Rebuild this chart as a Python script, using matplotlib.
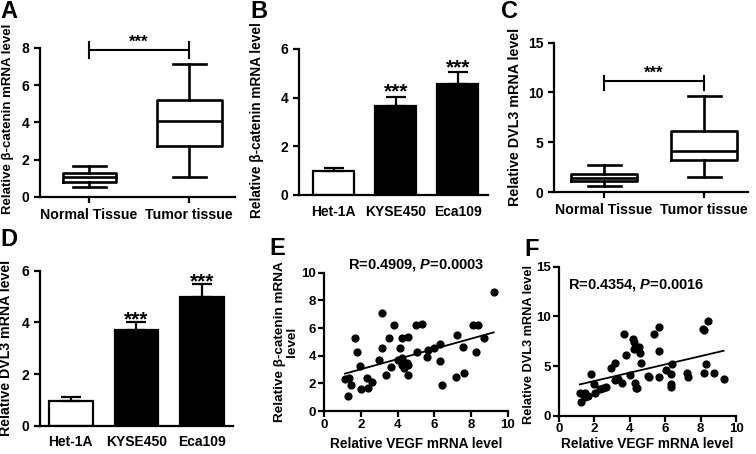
import numpy as np
import matplotlib
matplotlib.use("Agg")
import matplotlib.pyplot as plt

plt.rcParams['font.family'] = ['Liberation Sans', 'DejaVu Sans']
plt.rcParams['font.weight'] = 'bold'
plt.rcParams['axes.labelweight'] = 'bold'
plt.rcParams['mathtext.fontset'] = 'custom'
plt.rcParams['mathtext.it'] = 'Liberation Sans:bold:italic'
plt.rcParams['mathtext.rm'] = 'Liberation Sans:bold'

# ---- data ----
tissue_labels = ['Normal Tissue', 'Tumor tissue']
# box stats: whisker low, q1, median, q3, whisker high
ctnnb_box = [[0.55, 0.82, 1.07, 1.30, 1.68],
             [1.05, 2.72, 4.05, 5.20, 7.12]]
dvl3_box = [[0.57, 1.07, 1.38, 1.84, 2.67],
            [1.47, 3.17, 4.14, 6.08, 9.65]]

cell_lines = ['Het-1A', 'KYSE450', 'Eca109']
ctnnb_mean = [0.98, 3.67, 4.55]
ctnnb_sd = [0.14, 0.36, 0.49]
dvl3_mean = [0.97, 3.70, 4.99]
dvl3_sd = [0.15, 0.30, 0.49]

vegf_e = [1.14, 1.38, 1.45, 1.29, 1.70, 1.79, 1.97, 2.03, 2.36, 2.39, 2.61, 2.99,
          3.17, 3.15, 3.37, 3.55, 3.66, 3.79, 4.04, 4.15, 4.24, 4.22, 4.26, 4.37,
          4.49, 4.57, 4.57, 4.58, 5.02, 5.04, 5.34, 5.60, 5.63, 6.00, 6.30, 6.32,
          6.39, 7.19, 7.25, 7.63, 7.57, 8.12, 8.35, 8.24, 8.68, 9.22]
ctnnb_e = [2.29, 2.41, 1.88, 1.11, 5.25, 4.24, 3.25, 1.57, 2.41, 1.69, 2.07, 3.69,
           7.11, 4.58, 2.60, 5.25, 3.16, 6.24, 3.69, 4.58, 5.25, 3.83, 3.33, 3.13,
           3.49, 5.33, 2.60, 3.33, 6.24, 4.24, 6.31, 3.88, 4.41, 4.58, 4.84, 3.61,
           1.88, 2.48, 5.49, 2.72, 4.65, 6.19, 6.22, 4.24, 5.30, 8.60]
fit_e = (0.369, 2.28)   # slope, intercept of the drawn fit line

vegf_f = [1.17, 1.27, 1.36, 1.47, 1.49, 1.64, 1.78, 1.98, 2.02, 2.34, 2.50, 2.63,
          2.93, 3.16, 3.18, 3.36, 3.55, 3.65, 3.78, 4.03, 4.18, 4.22, 4.23, 4.27,
          4.35, 4.39, 4.54, 4.57, 4.61, 5.05, 5.07, 5.37, 5.65, 5.67, 5.67, 6.03,
          6.35, 6.41, 6.33, 6.35, 7.24, 7.26, 8.11, 8.19, 8.17, 8.30, 8.39, 8.77, 9.30]
dvl3_f = [2.25, 1.41, 2.18, 2.32, 1.91, 2.01, 4.19, 3.19, 2.25, 2.68, 2.82, 2.92,
          4.77, 5.34, 3.59, 3.72, 3.26, 8.19, 6.14, 4.09, 7.72, 7.45, 6.71, 3.26,
          2.75, 2.82, 6.95, 6.34, 5.27, 4.03, 3.86, 8.22, 8.89, 6.51, 3.86, 4.60,
          4.19, 5.20, 3.19, 2.85, 4.26, 3.86, 8.69, 8.62, 4.26, 5.17, 9.56, 4.26, 3.69]
fit_f = (0.417, 2.66)

W, H = 756, 454
fig = plt.figure(figsize=(W / 100, H / 100), dpi=100)


def px_axes(l, r, t, b):
    return fig.add_axes([l / W, 1 - b / H, (r - l) / W, (b - t) / H])


def style(ax, size=10):
    for s in ['top', 'right']:
        ax.spines[s].set_visible(False)
    for s in ['left', 'bottom']:
        ax.spines[s].set_linewidth(1.6)
    ax.tick_params(width=1.6, length=4, labelsize=size, direction='out')
    for lab in ax.get_xticklabels() + ax.get_yticklabels():
        lab.set_fontweight('bold')


def ylabel_at(text, xpx, ypx, size):
    fig.text(xpx / W, 1 - ypx / H, text, rotation=90, ha='center', va='center',
             fontsize=size, fontweight='bold', linespacing=1.1)


def letter(ch, xpx, ypx):
    fig.text(xpx / W, 1 - ypx / H, ch, ha='left', va='top', fontsize=17, fontweight='bold')


def boxpanel(ax, box, widths, ymax, yticks, bracket_y, tick_lo, tick_hi, xlim):
    stats = [dict(whislo=b[0], q1=b[1], med=b[2], q3=b[3], whishi=b[4], fliers=[])
             for b in box]
    lp = dict(color='black', linewidth=1.9)
    ax.bxp(stats, positions=[1, 2], widths=widths, capwidths=[0.33, 0.33],
           showfliers=False, boxprops=lp, whiskerprops=lp, capprops=lp, medianprops=lp)
    ax.set_xlim(*xlim)
    ax.set_ylim(0, ymax)
    ax.set_yticks(yticks)
    ax.set_xticks([1, 2])
    ax.set_xticklabels(tissue_labels)
    ax.plot([1, 2], [bracket_y, bracket_y], color='black', lw=1.5, clip_on=False)
    for xx in [1, 2]:
        ax.plot([xx, xx], [tick_lo, tick_hi], color='black', lw=1.5, clip_on=False)
    ax.text(1.5, bracket_y, '***', ha='center', va='bottom', fontsize=12, fontweight='bold')
    style(ax)
    ax.tick_params(axis='x', labelsize=10.2, pad=4)


def barpanel(ax, means, sds, xlim, star_pt):
    x = np.arange(len(cell_lines))
    colors = ['white', 'black', 'black']
    ax.bar(x, means, width=0.66, color=colors, edgecolor='black', linewidth=1.6)
    ax.errorbar(x, means, yerr=[np.zeros(len(sds)), sds], fmt='none', ecolor='black',
                elinewidth=1.6, capsize=7.5, capthick=1.6)
    for i in [1, 2]:
        ax.annotate('***', xy=(x[i], means[i] + sds[i]), xytext=(0, star_pt),
                    textcoords='offset points', ha='center', va='baseline',
                    fontsize=15, fontweight='bold')
    ax.set_xlim(*xlim)
    ax.set_ylim(0, 6)
    ax.set_yticks([0, 2, 4, 6])
    ax.set_xticks(x)
    ax.set_xticklabels(cell_lines)
    style(ax)
    ax.tick_params(axis='x', length=0, pad=7, labelsize=10)


def scatterpanel(ax, xs, ys, fit, ymax, yticks):
    ax.scatter(xs, ys, s=24, color='black', zorder=3, clip_on=False)
    xl = np.array([min(xs), max(xs)])
    ax.plot(xl, fit[0] * xl + fit[1], color='black', lw=1.3)
    ax.set_xlim(0, 10)
    ax.set_ylim(0, ymax)
    ax.set_xticks([0, 2, 4, 6, 8, 10])
    ax.set_yticks(yticks)
    style(ax, 9.5)
    ax.tick_params(axis='x', pad=1.5)
    ax.tick_params(axis='y', pad=1.5)


# A
axA = px_axes(40, 235, 47.7, 197)
boxpanel(axA, ctnnb_box, [0.53, 0.65], 8, [0, 2, 4, 6, 8], 7.87, 7.45, 8.3, (0.51, 2.46))
ylabel_at('Relative β-catenin mRNA level', 8, 119, 9.5)
letter('A', 0, 0)

# B
axB = px_axes(299, 488, 49, 195)
barpanel(axB, ctnnb_mean, ctnnb_sd, (-0.56, 2.49), -0.5)
ylabel_at('Relative β-catenin mRNA level', 257, 120, 9.8)
letter('B', 250, 0)

# C
axC = px_axes(554, 748, 42.7, 192)
boxpanel(axC, dvl3_box, [0.66, 0.66], 15, [0, 5, 10, 15], 11.19, 10.25, 11.66, (0.5, 2.44))
ylabel_at('Relative DVL3 mRNA level', 515, 117, 10.3)
letter('C', 501, 0)

# D
axD = px_axes(40, 233, 270.7, 425.7)
barpanel(axD, dvl3_mean, dvl3_sd, (-0.47, 2.47), -2.5)
ylabel_at('Relative DVL3 mRNA level', 6, 348, 10.2)
letter('D', 0, 228)

# E
axE = px_axes(324, 508, 272.7, 411)
scatterpanel(axE, vegf_e, ctnnb_e, fit_e, 10, [0, 2, 4, 6, 8, 10])
axE.set_title(r'R=0.4909, $\mathit{P}$=0.0003', fontsize=10.5, fontweight='bold', pad=0)
ylabel_at('Relative β-catenin mRNA\nlevel', 286, 342, 9.7)
fig.text(416 / W, 1 - 444 / H, 'Relative VEGF mRNA level', ha='center', va='center',
         fontsize=9.8, fontweight='bold')
letter('E', 269, 237)

# F
axF = px_axes(559, 736, 266.7, 415.7)
scatterpanel(axF, vegf_f, dvl3_f, fit_f, 15, [0, 5, 10, 15])
axF.text(0.5, 13.2, r'R=0.4354, $\mathit{P}$=0.0016', ha='left', va='center',
         fontsize=10.5, fontweight='bold')
ylabel_at('Relative DVL3 mRNA level', 529, 345, 9.2)
fig.text(647 / W, 1 - 444 / H, 'Relative VEGF mRNA level', ha='center', va='center',
         fontsize=9.8, fontweight='bold')
letter('F', 524, 238)

fig.savefig('out.png', dpi=100)
